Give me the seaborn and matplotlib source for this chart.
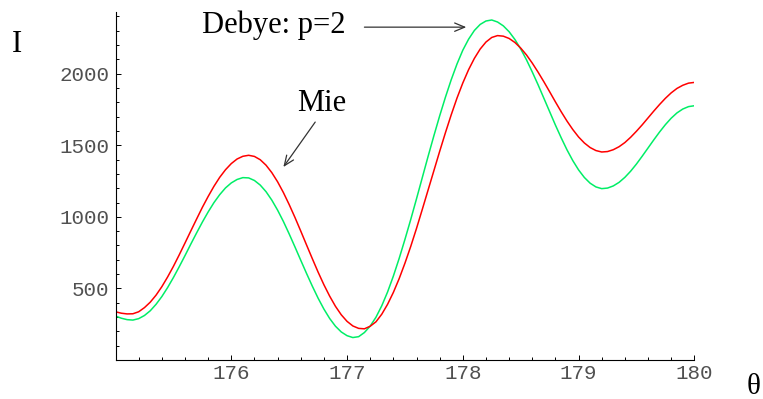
import numpy as np
import pandas as pd
import seaborn as sns
import matplotlib.pyplot as plt
from matplotlib.ticker import MultipleLocator, FixedLocator

# scattering angle samples (deg)
theta = np.linspace(175.0, 180.0, 101)

# intensity, one value per 0.05 deg
mie = [337, 327, 322, 323, 337, 366, 404, 453, 512, 580,
       654, 734, 817, 901, 984, 1066, 1142, 1213, 1276, 1329,
       1372, 1404, 1423, 1430, 1422, 1399, 1361, 1309, 1245, 1170,
       1086, 996, 901, 804, 708, 614, 526, 446, 375, 316,
       270, 238, 221, 218, 236, 267, 320, 389, 472, 568,
       676, 793, 919, 1052, 1187, 1322, 1457, 1588, 1713, 1830,
       1935, 2028, 2107, 2172, 2221, 2253, 2266, 2262, 2246, 2218,
       2179, 2131, 2074, 2011, 1944, 1874, 1803, 1734, 1669, 1610,
       1558, 1516, 1484, 1463, 1453, 1456, 1469, 1490, 1519, 1556,
       1598, 1643, 1691, 1739, 1785, 1828, 1866, 1897, 1919, 1934,
       1939]

debye = [307, 292, 282, 279, 289, 311, 344, 389, 443, 506,
         576, 651, 729, 809, 887, 963, 1034, 1099, 1155, 1202,
         1237, 1261, 1274, 1272, 1254, 1222, 1176, 1117, 1047, 968,
         881, 790, 697, 605, 516, 432, 356, 290, 236, 196,
         170, 157, 163, 192, 237, 299, 379, 475, 586, 709,
         842, 981, 1126, 1274, 1422, 1566, 1705, 1836, 1958, 2068,
         2164, 2241, 2302, 2344, 2368, 2375, 2361, 2334, 2293, 2239,
         2173, 2097, 2012, 1923, 1829, 1735, 1641, 1552, 1468, 1393,
         1328, 1275, 1235, 1209, 1197, 1201, 1216, 1241, 1276, 1319,
         1369, 1424, 1481, 1538, 1593, 1644, 1689, 1726, 1753, 1770,
         1776]

y_major = [500, 1000, 1500, 2000]
x_major = [176, 177, 178, 179, 180]

df = pd.concat([
    pd.DataFrame({"theta": theta, "I": debye, "series": "Debye p=2"}),
    pd.DataFrame({"theta": theta, "I": mie, "series": "Mie"}),
])

sns.set_style("white")
plt.rcParams["font.family"] = ["Liberation Mono", "DejaVu Sans Mono"]

fig = plt.figure(figsize=(7.63, 3.99), dpi=100)
ax = fig.add_axes([0.1514, 0.0977, 0.7586, 0.8730])

sns.lineplot(data=df, x="theta", y="I", hue="series",
             palette={"Mie": "#ff0000", "Debye p=2": "#00ee66"},
             linewidth=1.1, legend=False, ax=ax)

ax.set_xlim(175, 180)
ax.set_ylim(0, 2433)
ax.set_xlabel("")
ax.set_ylabel("")

ax.xaxis.set_major_locator(FixedLocator(x_major))
ax.xaxis.set_minor_locator(MultipleLocator(0.2))
ax.yaxis.set_major_locator(FixedLocator(y_major))
ax.yaxis.set_minor_locator(MultipleLocator(100))

for side in ["top", "right"]:
    ax.spines[side].set_visible(False)
for side in ["left", "bottom"]:
    ax.spines[side].set_color("black")
    ax.spines[side].set_linewidth(0.8)

ax.tick_params(which="both", direction="in", color="black", width=0.7,
               bottom=True, left=True, top=False, right=False)
ax.tick_params(which="major", length=3.8, labelsize=15, labelcolor="#505050")
ax.tick_params(which="minor", length=2.4)
ax.tick_params(axis="x", pad=3)
ax.tick_params(axis="y", pad=4.5)

serif = ["Liberation Serif", "DejaVu Serif"]

# axis labels in Mathematica style
fig.text(0.016, 1 - 52 / 399, "I", family=serif, fontsize=22,
         va="baseline", color="black")
fig.text(0.978, 1 - 394 / 399, "θ", family=serif, fontsize=21,
         va="baseline", ha="left", color="black")

# annotations
ax.text(175.745, 2287, "Debye: p=2", family=serif, fontsize=22,
        va="baseline", ha="left", color="black", clip_on=False)
ax.annotate("", xy=(178.03, 2325), xytext=(177.15, 2325),
            arrowprops=dict(arrowstyle="->,head_length=0.6,head_width=0.25",
                            color="#333333", lw=0.9, mutation_scale=12,
                            shrinkA=0, shrinkB=0),
            annotation_clip=False)

ax.text(176.565, 1739, "Mie", family=serif, fontsize=22,
        va="baseline", ha="left", color="black", clip_on=False)
ax.annotate("", xy=(176.45, 1348), xytext=(176.725, 1662),
            arrowprops=dict(arrowstyle="->,head_length=0.6,head_width=0.25",
                            color="#333333", lw=0.9, mutation_scale=12,
                            shrinkA=0, shrinkB=0),
            annotation_clip=False)

fig.savefig("out.png", dpi=100)
